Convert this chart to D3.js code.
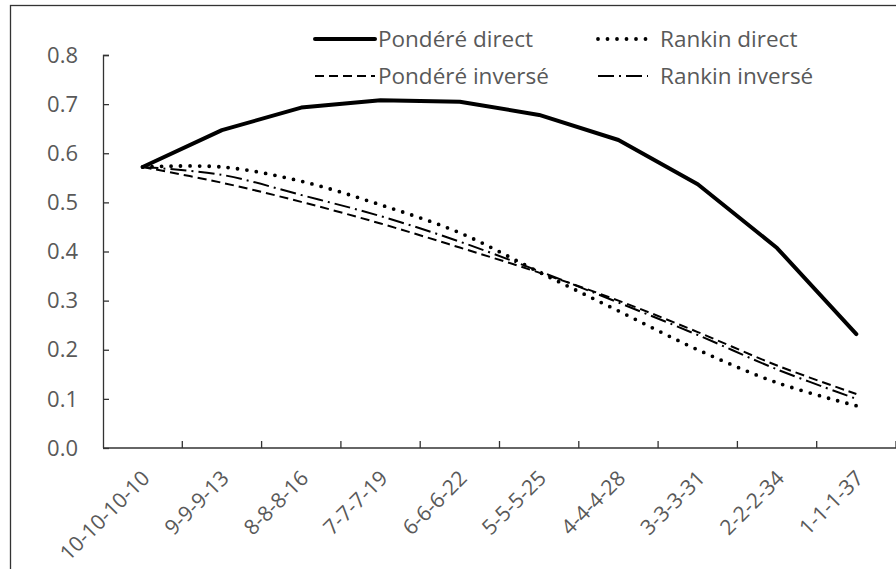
<!DOCTYPE html>
<html><head><meta charset="utf-8">
<script src="https://cdn.jsdelivr.net/npm/d3@7"></script>
<style>body{margin:0;background:#fff}svg{display:block}text{font-family:"Open Sans",sans-serif;fill:#595959}</style>
</head><body>
<svg id="c" width="896" height="569"></svg>
<script>
const categories = ["10-10-10-10","9-9-9-13","8-8-8-16","7-7-7-19","6-6-6-22","5-5-5-25","4-4-4-28","3-3-3-31","2-2-2-34","1-1-1-37"];
const ponderedDirect  = [0.572,0.647,0.693,0.708,0.705,0.678,0.627,0.537,0.407,0.232];
const rankinDirect    = [0.572,0.572,0.543,0.495,0.438,0.358,0.279,0.200,0.133,0.086];
const ponderedInverse = [0.572,0.540,0.501,0.457,0.408,0.357,0.300,0.236,0.168,0.110];
const rankinInverse   = [0.572,0.556,0.515,0.472,0.420,0.360,0.296,0.230,0.160,0.100];
const yTicks = [0,0.1,0.2,0.3,0.4,0.5,0.6,0.7,0.8];
const seriesNames = ["Pondéré direct","Rankin direct","Pondéré inversé","Rankin inversé"];

const svg = d3.select("#c");
svg.append("rect").attr("x",10.5).attr("y",5.5).attr("width",1000).attr("height",1000)
  .attr("fill","none").attr("stroke","#333").attr("stroke-width",1.3);

const x = d3.scaleBand().domain(categories).range([103,896]);
const y = d3.scaleLinear().domain([0,0.8]).range([448,55]);

// axes
const gy = svg.append("g").attr("transform","translate(103,0)")
  .call(d3.axisRight(y).tickValues(yTicks).tickSize(6).tickFormat(""));
gy.selectAll("path,line").attr("stroke","#333").attr("stroke-width",1.3);
gy.select(".domain").attr("d","M6,55.5H0.5V448");
svg.append("g").selectAll("text").data(yTicks).join("text")
  .attr("x",78).attr("y",d=>y(d)).attr("dy","0.35em").attr("text-anchor","end")
  .style("font-size","22px").text(d=>d.toFixed(1));

const gx = svg.append("g").attr("transform","translate(0,448)");
gx.append("line").attr("x1",103).attr("x2",896).attr("y1",0).attr("y2",0).attr("stroke","#333").attr("stroke-width",1.5);
gx.selectAll("line.t").data(categories).join("line").attr("class","t")
  .attr("x1",d=>x(d)+x.bandwidth()).attr("x2",d=>x(d)+x.bandwidth())
  .attr("y1",0).attr("y2",-7).attr("stroke","#333").attr("stroke-width",1.3);
gx.selectAll("text").data(categories).join("text")
  .attr("transform",d=>`translate(${x(d)+x.bandwidth()/2-2},21) rotate(-45)`)
  .attr("text-anchor","end").attr("dy","0.7em")
  .style("font-size","21px").text(d=>d);

const cx = d => x(d)+x.bandwidth()/2;
const styles = [
  {data:ponderedDirect, w:4, dash:null, cap:"round", curve:d3.curveLinear},
  {data:rankinDirect, w:3.8, dash:"0,9.5", cap:"round", curve:d3.curveCatmullRom},
  {data:ponderedInverse, w:2, dash:"9,5", cap:"butt", curve:d3.curveCatmullRom},
  {data:rankinInverse, w:2, dash:"16,5,2,5", cap:"butt", curve:d3.curveCatmullRom}
];
styles.forEach(s=>{
  const line = d3.line().x((d,i)=>cx(categories[i])).y(d=>y(d)).curve(s.curve);
  svg.append("path").attr("d",line(s.data)).attr("fill","none").attr("stroke","#000")
    .attr("stroke-width",s.w).attr("stroke-dasharray",s.dash).attr("stroke-linecap",s.cap)
    .attr("stroke-linejoin","round");
});

// legend
const leg = [
  {x1:315,x2:375,tx:378,y:39,s:styles[0],name:seriesNames[0]},
  {x1:598,x2:648,tx:660,y:39,s:styles[1],name:seriesNames[1]},
  {x1:315,x2:375,tx:378,y:76,s:styles[2],name:seriesNames[2]},
  {x1:598,x2:648,tx:660,y:76,s:styles[3],name:seriesNames[3]}
];
leg.forEach(l=>{
  svg.append("line").attr("x1",l.x1).attr("x2",l.x2).attr("y1",l.y).attr("y2",l.y)
    .attr("stroke","#000").attr("stroke-width",l.s.w).attr("stroke-dasharray",l.s.dash)
    .attr("stroke-linecap",l.s.cap);
  svg.append("text").attr("x",l.tx).attr("y",l.y).attr("dy","0.35em")
    .style("font-size","22.5px").text(l.name);
});
</script>
</body></html>
